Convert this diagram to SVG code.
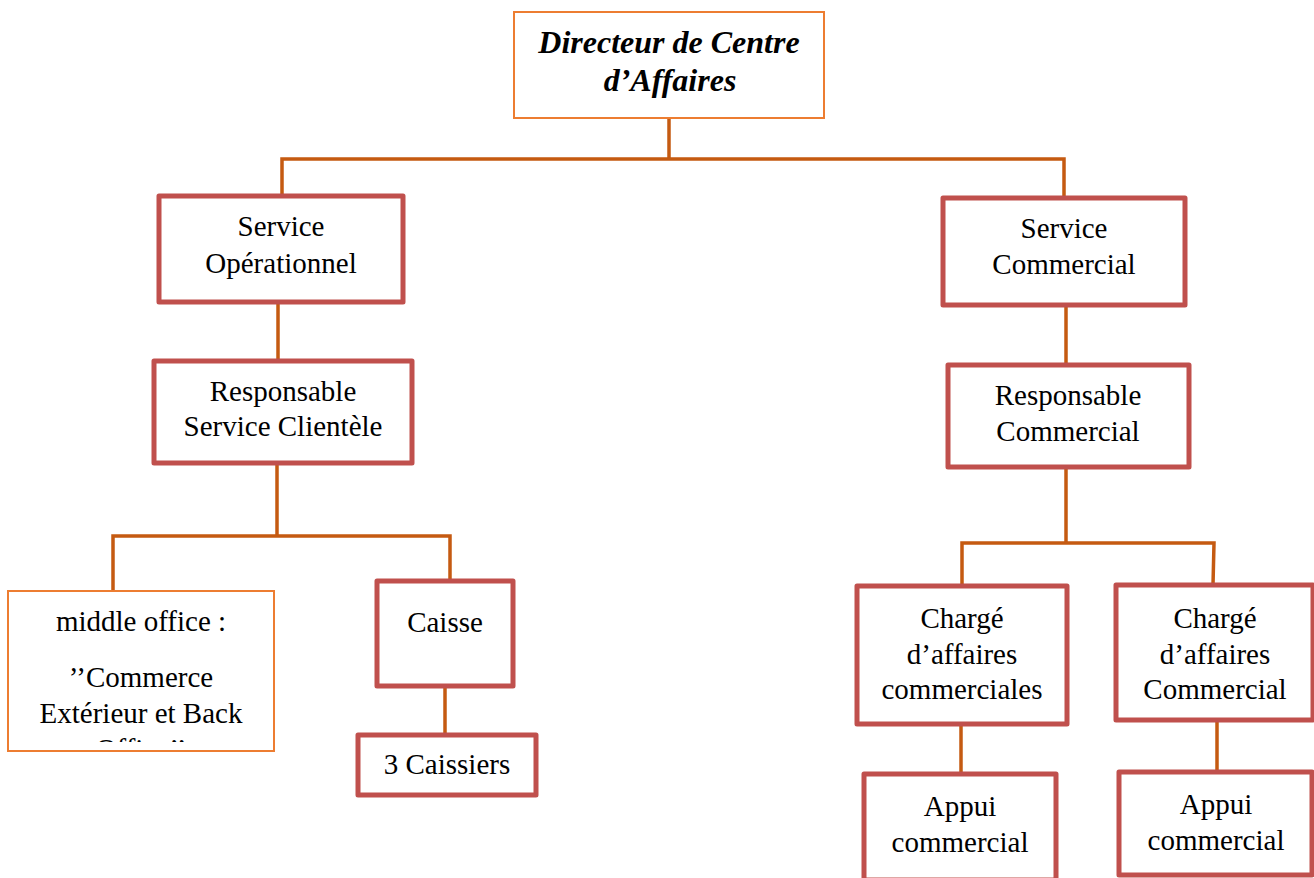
<svg xmlns="http://www.w3.org/2000/svg" width="1314" height="878" viewBox="0 0 1314 878">
<style>
.bg{fill:#ffffff}
.thin{fill:#ffffff;stroke:#ED7D31;stroke-width:2}
.thick{fill:#ffffff;stroke:#C0504D;stroke-width:5;stroke-linejoin:round}
.conn{fill:none;stroke:#C55A11;stroke-width:3.5}
text{font-family:"Liberation Serif","Times New Roman",serif;font-size:29px;fill:#000;text-anchor:middle}
.title{font-size:32px;font-weight:bold;font-style:italic}
</style>
<defs>
<clipPath id="mclip"><rect x="9" y="592" width="264" height="150"/></clipPath>
</defs>
<rect class="bg" x="0" y="0" width="1314" height="878"/>
<g id="connectors">
<polyline class="conn" points="669,118 669,159"/>
<polyline class="conn" points="282,196 282,159 1064,159 1064,198"/>
<polyline class="conn" points="278,302 278,361"/>
<polyline class="conn" points="1066,305 1066,365"/>
<polyline class="conn" points="277,463 277,536"/>
<polyline class="conn" points="113,591 113,536 450,536 450,581"/>
<polyline class="conn" points="445,686 445,735"/>
<polyline class="conn" points="1066,467 1066,543"/>
<polyline class="conn" points="962,586 962,543 1214,543 1213,585"/>
<polyline class="conn" points="961,724 961,774"/>
<polyline class="conn" points="1217,720 1217,772"/>
</g>
<g id="directeur">
<rect class="thin" x="514" y="12" width="310" height="106"/>
<text class="title" x="669" y="53">Directeur de Centre</text>
<text class="title" x="670" y="91">d’Affaires</text>
</g>
<g id="service-operationnel">
<rect class="thick" x="159" y="196" width="244" height="106"/>
<text x="281" y="236">Service</text>
<text x="281" y="273">Opérationnel</text>
</g>
<g id="service-commercial">
<rect class="thick" x="943" y="198" width="242" height="107"/>
<text x="1064" y="238">Service</text>
<text x="1064" y="274">Commercial</text>
</g>
<g id="responsable-service-clientele">
<rect class="thick" x="154" y="361" width="258" height="102"/>
<text x="283" y="401">Responsable</text>
<text x="283" y="436">Service Clientèle</text>
</g>
<g id="responsable-commercial">
<rect class="thick" x="948" y="365" width="241" height="102"/>
<text x="1068" y="405">Responsable</text>
<text x="1068" y="441">Commercial</text>
</g>
<g id="middle-office">
<rect class="thin" x="8" y="591" width="266" height="160"/>
<g clip-path="url(#mclip)">
<text x="141" y="631">middle office :</text>
<text x="141" y="687">’’Commerce</text>
<text x="141" y="723">Extérieur et Back</text>
<text x="141" y="759">Office’’</text>
</g>
</g>
<g id="caisse">
<rect class="thick" x="377" y="581" width="136" height="105"/>
<text x="445" y="632">Caisse</text>
</g>
<g id="caissiers">
<rect class="thick" x="358" y="735" width="178" height="60"/>
<text x="447" y="774">3 Caissiers</text>
</g>
<g id="charge-commerciales">
<rect class="thick" x="857" y="586" width="210" height="138"/>
<text x="962" y="628">Chargé</text>
<text x="962" y="664">d’affaires</text>
<text x="962" y="699">commerciales</text>
</g>
<g id="charge-commercial">
<rect class="thick" x="1116" y="585" width="197" height="135"/>
<text x="1215" y="628">Chargé</text>
<text x="1215" y="664">d’affaires</text>
<text x="1215" y="699">Commercial</text>
</g>
<g id="appui-1">
<rect class="thick" x="864" y="774" width="192" height="106"/>
<text x="960" y="816">Appui</text>
<text x="960" y="852">commercial</text>
</g>
<g id="appui-2">
<rect class="thick" x="1119" y="772" width="193" height="103"/>
<text x="1216" y="814">Appui</text>
<text x="1216" y="850">commercial</text>
</g>
</svg>
